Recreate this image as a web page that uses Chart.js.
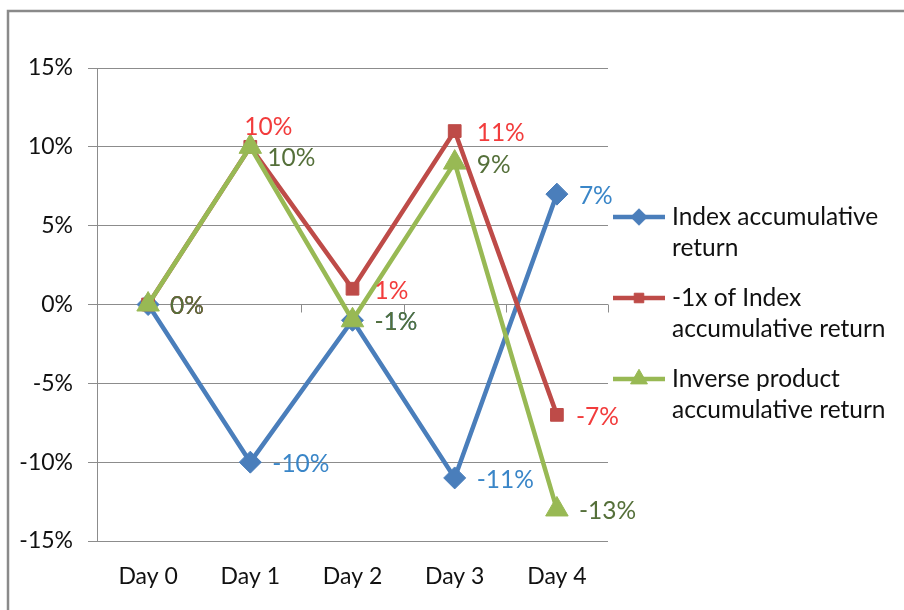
<!DOCTYPE html>
<html>
<head>
<meta charset="utf-8">
<title>Accumulative return</title>
<script src="https://cdn.jsdelivr.net/npm/chart.js@4.4.1/dist/chart.umd.min.js"></script>
<style>
  html, body { margin: 0; padding: 0; background: #fff; }
  #wrap { width: 904px; height: 610px; }
</style>
</head>
<body>
<div id="wrap"><canvas id="myChart" width="904" height="610"></canvas></div>
<script>
const days = ['Day 0', 'Day 1', 'Day 2', 'Day 3', 'Day 4'];
const indexReturn = [0, -10, -1, -11, 7];
const minusOneIndex = [0, 10, 1, 11, -7];
const inverseProduct = [0, 10, -1, 9, -13];
const seriesNames = [
    ['Index accumulative', 'return'],
    ['-1x of Index', 'accumulative return'],
    ['Inverse product', 'accumulative return']
];
const yMin = -15, yMax = 15, yStep = 5;

const FONT = 'Lato, "Noto Sans", sans-serif';
const TICK_SIZE = 23;
const LABEL_SIZE = 24.5;
const GRID = '#8c8c8c';

// adds the frame, the data labels, the little ticks on the 0% line and the legend
const excelBits = {
    id: 'excelBits',
    beforeDraw(chart) {
        const ctx = chart.ctx;
        ctx.save();
        ctx.strokeStyle = '#8a8a8a';
        ctx.lineWidth = 2.5;
        ctx.strokeRect(8, 11, 1000, 1000);
        ctx.restore();
    },
    beforeDatasetsDraw(chart) {
        const ctx = chart.ctx;
        const xs = chart.scales.x, ys = chart.scales.y;
        const y0 = ys.getPixelForValue(0);
        const step = (xs.right - xs.left) / days.length;
        ctx.save();
        ctx.strokeStyle = GRID;
        ctx.lineWidth = 1;
        for (let i = 0; i <= days.length; i++) {
            const x = Math.round(xs.left + i * step) + 0.5;
            ctx.beginPath();
            ctx.moveTo(x, y0);
            ctx.lineTo(x, y0 + 8);
            ctx.stroke();
        }
        ctx.restore();
    },
    afterDatasetsDraw(chart) {
        const ctx = chart.ctx;
        ctx.save();
        ctx.font = `${LABEL_SIZE}px ${FONT}`;
        ctx.textBaseline = 'middle';
        ctx.textAlign = 'left';
        chart.data.datasets.forEach((ds, i) => {
            const meta = chart.getDatasetMeta(i);
            meta.data.forEach((pt, j) => {
                const shift = ds.labelShift ? ds.labelShift[j] : [0, 0];
                ctx.fillStyle = ds.labelColor;
                ctx.fillText(ds.data[j] + '%', pt.x + 22 + shift[0], pt.y + 2 + shift[1]);
            });
        });
        ctx.restore();
    },
    afterDraw(chart) {
        const ctx = chart.ctx;
        const lineX = 613, lineLen = 52, textX = 672;
        ctx.save();
        ctx.font = `${LABEL_SIZE}px ${FONT}`;
        ctx.textBaseline = 'middle';
        ctx.textAlign = 'left';
        chart.data.datasets.forEach((ds, i) => {
            const y = 217 + i * 81;
            ctx.strokeStyle = ds.borderColor;
            ctx.lineWidth = 4.5;
            ctx.beginPath();
            ctx.moveTo(lineX, y);
            ctx.lineTo(lineX + lineLen, y);
            ctx.stroke();
            ctx.fillStyle = ds.borderColor;
            ctx.strokeStyle = ds.borderColor;
            ctx.lineWidth = 1;
            Chart.helpers.drawPoint(ctx, {
                pointStyle: ds.pointStyle,
                radius: ds.pointRadius * 0.75,
                borderWidth: 1
            }, lineX + lineLen / 2, y);
            ctx.fillStyle = '#111';
            seriesNames[i].forEach((line, k) => {
                ctx.fillText(line, textX, y + k * 31);
            });
        });
        ctx.restore();
    }
};

new Chart('myChart', {
    type: 'line',
    data: {
        labels: days,
        datasets: [{
            label: seriesNames[0].join(' '),
            data: indexReturn,
            borderColor: '#4a7ebb',
            backgroundColor: '#4a7ebb',
            pointStyle: 'rectRot',
            pointRadius: 11,
            labelColor: '#3a86c8',
            order: 2
        }, {
            label: seriesNames[1].join(' '),
            data: minusOneIndex,
            borderColor: '#be4b48',
            backgroundColor: '#be4b48',
            pointStyle: 'rect',
            pointRadius: 9,
            labelColor: '#f23c3c',
            labelShift: [[0, 0], [-28, -22], [0, 0], [0, 0], [-3, 0]],
            order: 1
        }, {
            label: seriesNames[2].join(' '),
            data: inverseProduct,
            borderColor: '#98b954',
            backgroundColor: '#98b954',
            pointStyle: 'triangle',
            pointRadius: 13,
            labelColor: '#55703a',
            labelShift: [[0, 0], [-5, 9], [0, 0], [0, 0], [0, 0]],
            order: 0
        }]
    },
    options: {
        responsive: false,
        animation: false,
        devicePixelRatio: 1,
        layout: { padding: { top: 68, right: 296, left: 0, bottom: 0 } },
        elements: {
            line: { borderWidth: 4.5, tension: 0 },
            point: { borderWidth: 1, hoverRadius: 11 }
        },
        plugins: {
            legend: { display: false },
            tooltip: { enabled: false }
        },
        scales: {
            x: {
                offset: true,
                grid: { display: false, drawTicks: false, offset: true },
                border: { display: false },
                ticks: {
                    color: '#111',
                    padding: 22,
                    font: { family: FONT, size: TICK_SIZE }
                },
                afterFit: (s) => { s.height = 69; }
            },
            y: {
                min: yMin,
                max: yMax,
                grid: { color: GRID, tickLength: 9 },
                border: { display: true, color: GRID },
                ticks: {
                    stepSize: yStep,
                    color: '#111',
                    padding: 15,
                    font: { family: FONT, size: TICK_SIZE },
                    callback: (v) => v + '%'
                },
                afterFit: (s) => { s.width = 97; }
            }
        }
    },
    plugins: [excelBits]
});
</script>
</body>
</html>
